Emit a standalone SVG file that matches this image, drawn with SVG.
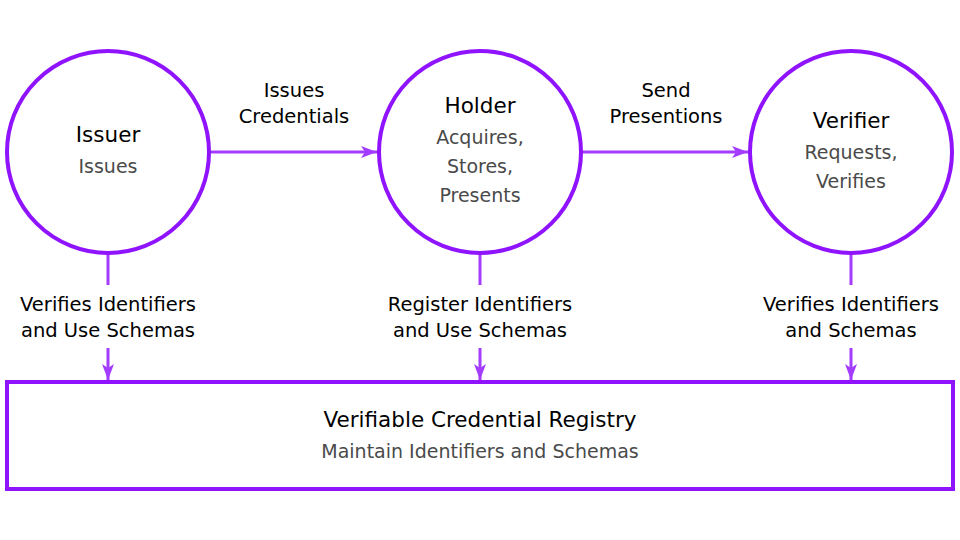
<svg xmlns="http://www.w3.org/2000/svg" width="960" height="540" viewBox="0 0 960 540">
<style>
.node{fill:#fff;stroke:#9013fe;stroke-width:4}
.conn{stroke:#a33cff;stroke-width:3;fill:none}
.t{font-family:"DejaVu Sans",sans-serif;text-anchor:middle}
.title{font-size:21.5px;fill:#000}
.sub{font-size:19px;fill:#4a4a4a}
.lbl{font-size:19.5px;fill:#000}
</style>
<defs>
<marker id="ah" viewBox="0 0 16 12" refX="16" refY="6" markerWidth="16" markerHeight="12" markerUnits="userSpaceOnUse" orient="auto">
<path d="M0,0 L16,6 L0,12 L4,6 Z" fill="#a33cff"/>
</marker>
</defs>
<rect width="960" height="540" fill="#fff"/>
<g id="connectors">
<line class="conn" x1="210" y1="152" x2="377" y2="152" marker-end="url(#ah)"/>
<line class="conn" x1="582" y1="152" x2="748" y2="152" marker-end="url(#ah)"/>
<line class="conn" x1="108" y1="254" x2="108" y2="285"/>
<line class="conn" x1="108" y1="348" x2="108" y2="380" marker-end="url(#ah)"/>
<line class="conn" x1="480" y1="254" x2="480" y2="285"/>
<line class="conn" x1="480" y1="348" x2="480" y2="380" marker-end="url(#ah)"/>
<line class="conn" x1="851" y1="254" x2="851" y2="285"/>
<line class="conn" x1="851" y1="348" x2="851" y2="380" marker-end="url(#ah)"/>
<text class="t lbl" x="294" y="97">Issues</text>
<text class="t lbl" x="294" y="123">Credentials</text>
<text class="t lbl" x="666" y="97">Send</text>
<text class="t lbl" x="666" y="123">Presentions</text>
<text class="t lbl" x="108" y="311">Verifies Identifiers</text>
<text class="t lbl" x="108" y="337">and Use Schemas</text>
<text class="t lbl" x="480" y="311">Register Identifiers</text>
<text class="t lbl" x="480" y="337">and Use Schemas</text>
<text class="t lbl" x="851" y="311">Verifies Identifiers</text>
<text class="t lbl" x="851" y="337">and Schemas</text>
</g>
<g id="issuer">
<circle class="node" cx="108" cy="152" r="101"/>
<text class="t title" x="108" y="142">Issuer</text>
<text class="t sub" x="108" y="173">Issues</text>
</g>
<g id="holder">
<circle class="node" cx="480" cy="152" r="101"/>
<text class="t title" x="480" y="113">Holder</text>
<text class="t sub" x="480" y="144">Acquires,</text>
<text class="t sub" x="480" y="173">Stores,</text>
<text class="t sub" x="480" y="202">Presents</text>
</g>
<g id="verifier">
<circle class="node" cx="851" cy="152" r="101"/>
<text class="t title" x="851" y="128">Verifier</text>
<text class="t sub" x="851" y="159">Requests,</text>
<text class="t sub" x="851" y="188">Verifies</text>
</g>
<g id="registry">
<rect class="node" x="7" y="382" width="946" height="107"/>
<text class="t title" x="480" y="427">Verifiable Credential Registry</text>
<text class="t sub" x="480" y="458">Maintain Identifiers and Schemas</text>
</g>
</svg>
